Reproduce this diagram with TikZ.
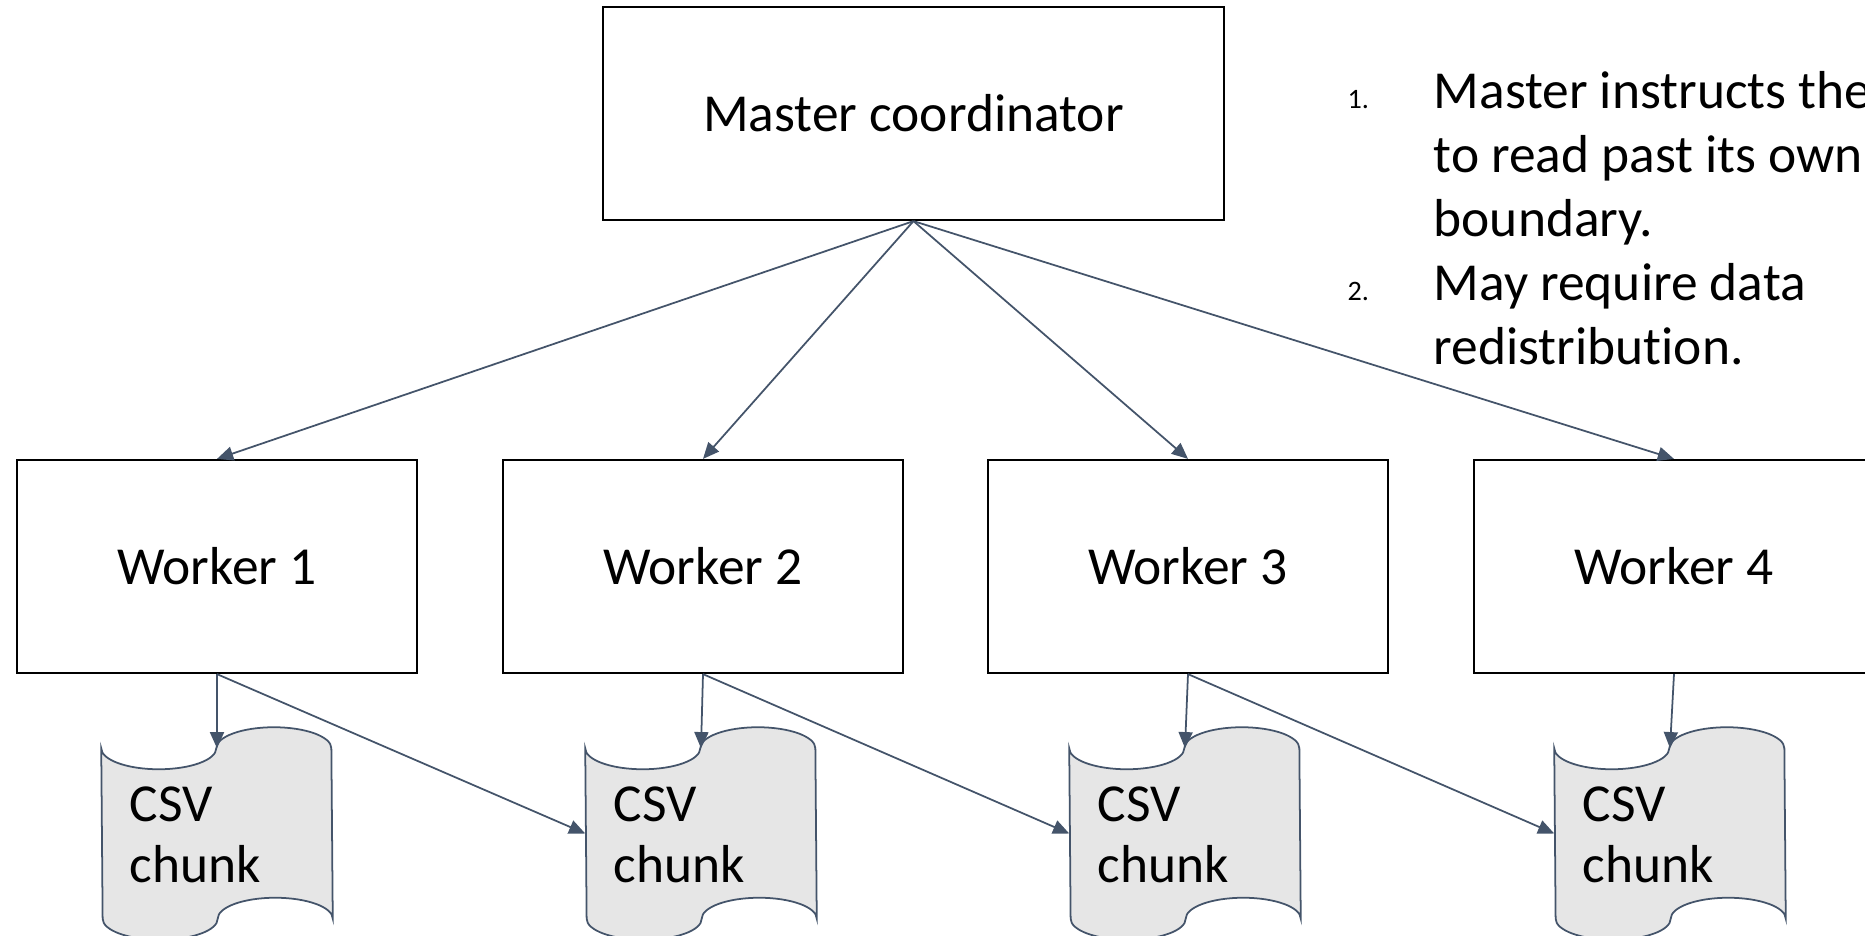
\documentclass[tikz,border=0pt]{standalone}
\usepackage{fontspec}
\setmainfont{Carlito}[Ligatures=NoCommon]
\usepackage{xcolor}
\usetikzlibrary{calc, arrows.meta, positioning}

\definecolor{linkcol}{HTML}{44546A}
\definecolor{chunkfill}{HTML}{E6E6E6}

% chunk of the csv file: name, centre x
\newcommand{\csvchunk}[2]{%
	\node [chunk] (#1) at (#2,833.5) {};
	\draw [chunkline] (#1.north west)
		arc [start angle=180, end angle=360, x radius=0.575cm, y radius=0.21cm]
		arc [start angle=180, end angle=0, x radius=0.575cm, y radius=0.21cm]
		-- (#1.south east)
		arc [start angle=0, end angle=180, x radius=0.575cm, y radius=0.21cm]
		arc [start angle=0, end angle=-180, x radius=0.575cm, y radius=0.21cm]
		-- cycle;
	\node [chunktext, anchor=base west] (#1-txt) at ($(#1.north west)+(28,134)$) {CSV\\chunk};
}

\begin{document}
\begin{tikzpicture}[x=0.01cm, y=-0.01cm,
		masterbox/.style={draw, line width=0.6pt, minimum width=6.21cm, minimum height=2.13cm, inner sep=0pt, font=\fontsize{15.2}{18}\selectfont},
		workerbox/.style={draw, line width=0.6pt, minimum width=4cm, minimum height=2.13cm, inner sep=0pt, font=\fontsize{15.2}{18}\selectfont},
		chunk/.style={minimum width=2.3cm, minimum height=1.69cm, inner sep=0pt},
		chunkline/.style={draw=linkcol, fill=chunkfill, line width=0.5pt},
		chunktext/.style={inner sep=0pt, align=left, font=\fontsize{15.2}{17.4}\selectfont},
		listnum/.style={inner sep=0pt, font=\fontsize{8}{10}\selectfont},
		listtext/.style={inner sep=0pt, align=left, font=\fontsize{15.2}{18.2}\selectfont},
		conn/.style={draw=linkcol, line width=0.5pt, -{Triangle[length=4.6pt, width=4pt]}}]
	
	%size of the slide
	\useasboundingbox (0,0) rectangle (1865,936);
	\clip (0,0) rectangle (1865,936);
	
	%master and workers
	\node [masterbox] (master) at (913.5,113.5) {Master coordinator};
	
	\node [workerbox] (w1) at (217,566.5) {Worker 1};
	\node [workerbox] (w2) at (703,566.5) {Worker 2};
	\node [workerbox] (w3) at (1188,566.5) {Worker 3};
	\node [workerbox] (w4) at (1674,566.5) {Worker 4};
	
	%csv chunks
	\csvchunk{c1}{217}
	\csvchunk{c2}{701}
	\csvchunk{c3}{1185}
	\csvchunk{c4}{1670}
	
	%master to workers
	\draw [conn] (master.south) -- (w1.north);
	\draw [conn] (master.south) -- (w2.north);
	\draw [conn] (master.south) -- (w3.north);
	\draw [conn] (master.south) -- (w4.north);
	
	%workers to chunks
	\draw [conn] (w1.south) -- (c1.north);
	\draw [conn] (w2.south) -- (c2.north);
	\draw [conn] (w3.south) -- (c3.north);
	\draw [conn] (w4.south) -- (c4.north);
	\draw [conn] (w1.south) -- (c2.west);
	\draw [conn] (w2.south) -- (c3.west);
	\draw [conn] (w3.south) -- (c4.west);
	
	%notes (text nodes placed at the baseline of their last line)
	\node [listnum, anchor=base west] (n1) at (1347,108) {1.};
	\node [listtext, anchor=base west] (t1) at (1433,236) {Master instructs the\\to read past its own\\boundary.};
	\node [listnum, anchor=base west] (n2) at (1347,300) {2.};
	\node [listtext, anchor=base west] (t2) at (1433,364) {May require data\\redistribution.};
\end{tikzpicture}
\end{document}
